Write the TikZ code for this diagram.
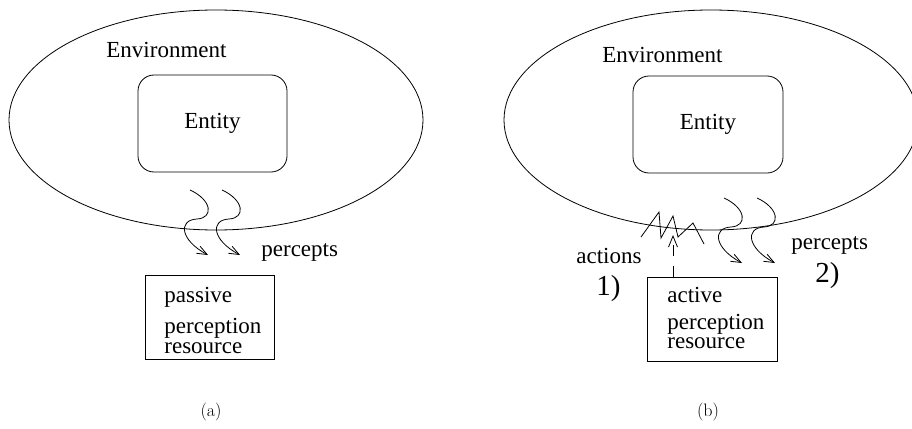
\documentclass[tikz,border=0pt]{standalone}
\usepackage{fontspec}
\newfontfamily\tms{Liberation Serif}
\usetikzlibrary{shapes.geometric,arrows.meta}

\begin{document}
\begin{tikzpicture}[x=1pt,y=-1pt,line width=0.8pt,
  env/.style={draw,ellipse,inner sep=0pt,minimum width=414pt,minimum height=220pt},
  entitybox/.style={draw,rounded corners=16pt,inner sep=0pt,minimum width=149pt,minimum height=97pt,
    font=\fontsize{23}{23}\selectfont\tms},
  resbox/.style={draw,inner sep=0pt,minimum width=130pt,minimum height=84pt},
  lbl/.style={inner sep=0pt,anchor=base west,font=\fontsize{23}{23}\selectfont\tms},
  biglbl/.style={inner sep=0pt,anchor=base west,font=\fontsize{29}{29}\selectfont\tms},
  caption/.style={inner sep=0pt,anchor=base,font=\fontsize{18}{18}\selectfont},
  wavy/.style={-{Straight Barb[length=10pt,width=8pt]}},
  probe/.style={dashed,dash pattern=on 11pt off 10pt,-{Straight Barb[length=11pt,width=9pt]}}]

\useasboundingbox (0,0) rectangle (912,428);
\clip (0,0) rectangle (912,428);

% ---------- (a) passive perception ----------
\node[env] (envA) at (216,120) {};
\node[lbl] (envAlbl) at (106,57) {Environment};
\node[entitybox] (entA) at (212.5,123.5) {Entity};

\coordinate (a1s) at (190,190);
\coordinate (a1e) at (208,255);
\coordinate (a2s) at (222,190);
\coordinate (a2e) at (240,255);
\draw[wavy] (a1s) .. controls ++(22,10) and (214,218) .. (197,219)
  .. controls (178,220) and (180,240) .. (a1e);
\draw[wavy] (a2s) .. controls ++(22,10) and (246,218) .. (229,219)
  .. controls (210,220) and (212,240) .. (a2e);
\node[lbl] (percA) at (261,256) {percepts};

\node[resbox,minimum width=129pt] (pbox) at (209.5,317) {};
\node[lbl] (pl1) at (164,302) {passive};
\node[lbl] (pl2) at (164,333) {perception};
\node[lbl] (pl3) at (164,353) {resource};

\node[caption] (capA) at (211,416) {(a)};

% ---------- (b) active perception ----------
\node[env] (envB) at (711,120) {};
\node[lbl] (envBlbl) at (602,63) {Environment};
\node[entitybox,minimum width=150pt] (entB) at (708,124.5) {Entity};

% probing actions
\draw (641,237) -- (659,212) -- (661,238) -- (673,216) -- (678,237) -- (693,223) -- (704,244);
\node[resbox] (abox) at (712,319) {};
\coordinate (probeTop) at (673,235);
\draw[probe] (abox.north west -| probeTop) -- (probeTop);
\node[lbl] (actlbl) at (576,263) {actions};
\node[biglbl] (one) at (596,295) {1)};

\coordinate (b1s) at (724,198);
\coordinate (b1e) at (742,263);
\coordinate (b2s) at (757,198);
\coordinate (b2e) at (775,263);
\draw[wavy] (b1s) .. controls ++(22,10) and (748,226) .. (731,227)
  .. controls (712,228) and (714,248) .. (b1e);
\draw[wavy] (b2s) .. controls ++(22,10) and (781,226) .. (764,227)
  .. controls (745,228) and (747,248) .. (b2e);
\node[lbl] (percB) at (791,249) {percepts};
\node[biglbl] (two) at (815,282) {2)};

\node[lbl] (al1) at (667,302) {active};
\node[lbl] (al2) at (667,329) {perception};
\node[lbl] (al3) at (667,348) {resource};

\node[caption] (capB) at (708,416) {(b)};
\end{tikzpicture}
\end{document}
